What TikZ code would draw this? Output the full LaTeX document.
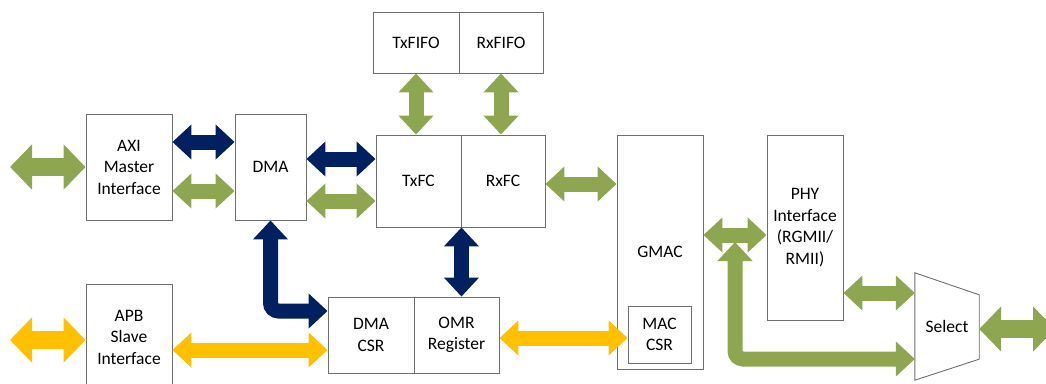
\documentclass[tikz,border=0pt]{standalone}
\usepackage{fontspec}
\setmainfont{Carlito}
\usetikzlibrary{arrows.meta}
\definecolor{busgreen}{RGB}{142,166,80}
\definecolor{busnavy}{RGB}{0,32,96}
\definecolor{busyellow}{RGB}{255,192,0}
\definecolor{boxline}{RGB}{110,110,110}
\begin{document}
\begin{tikzpicture}[x=1pt,y=-1pt,
  font=\fontsize{17.5}{21.5}\selectfont,
  blk/.style={draw=boxline,line width=0.9pt,align=center,inner sep=0pt},
  bus/.style={line width=15pt,{Triangle[width=34pt,length=19pt]}-{Triangle[width=34pt,length=19pt]}},
  widebus/.style={line width=18pt,{Triangle[width=44pt,length=22pt]}-{Triangle[width=44pt,length=22pt]}}]
\useasboundingbox (0,0) rectangle (1046,383);
% blocks
\node[blk,minimum width=86pt,minimum height=106pt] (axi) at (129,167) {AXI\\Master\\Interface};
\node[blk,minimum width=71pt,minimum height=106pt] (dma) at (270.5,167) {DMA};
\node[blk,minimum width=85pt,minimum height=92pt] (txfc) at (418.5,181) {TxFC};
\node[blk,minimum width=84pt,minimum height=92pt] (rxfc) at (503,181) {RxFC};
\node[blk,minimum width=86pt,minimum height=61pt] (txfifo) at (416,42.5) {TxFIFO};
\node[blk,minimum width=84pt,minimum height=61pt] (rxfifo) at (501,42.5) {RxFIFO};
\node[blk,minimum width=86pt,minimum height=76pt] (dmacsr) at (371,335) {DMA\\CSR};
\node[blk,minimum width=85pt,minimum height=76pt] (omr) at (456.5,335) {OMR\\Register};
\node[blk,minimum width=86pt,minimum height=234pt] (gmac) at (660,252) {GMAC};
\node[blk,minimum width=63pt,minimum height=57pt] (maccsr) at (659.5,334.5) {MAC\\CSR};
\node[blk,minimum width=76pt,minimum height=185pt] (phy) at (805,227.5) {PHY\\Interface\\(RGMII/\\RMII)};
\node[blk,minimum width=86pt,minimum height=106pt] (apb) at (129,337) {APB\\Slave\\Interface};
\node[minimum width=64pt,minimum height=107pt,inner sep=0pt] (sel) at (947,326.5) {Select};
\draw[boxline,line width=0.9pt] (sel.north west) -- ([yshift=-22pt]sel.north east)
  -- ([yshift=21pt]sel.south east) -- (sel.south west) -- cycle;
% outer ports
\coordinate (axiext) at (10,167);
\coordinate (apbext) at (10,340);
\coordinate (selext) at (1055,329);
\coordinate (ltip) at (735,242);
% buses
\draw[widebus,busgreen] (axiext) -- (axi.west);
\draw[bus,busnavy] (axi.east |- 0,142) -- (dma.west |- 0,142);
\draw[bus,busgreen] (axi.east |- 0,191) -- (dma.west |- 0,191);
\draw[bus,busnavy] (dma.east |- 0,159) -- (txfc.west |- 0,159);
\draw[bus,busgreen] (dma.east |- 0,201) -- (txfc.west |- 0,201);
\draw[bus,busgreen] (txfifo.south) -- (txfifo.south |- txfc.north);
\draw[bus,busgreen] (rxfifo.south) -- (rxfifo.south |- rxfc.north);
\draw[bus,busgreen] (rxfc.east |- 0,184) -- (gmac.west |- 0,184);
\draw[bus,busnavy] (txfc.south east) -- (txfc.south east |- omr.north);
\draw[bus,busnavy,rounded corners=8pt] (dma.south) -- (dma.south |- 0,311) -- (dmacsr.west |- 0,311);
\draw[widebus,busyellow] (apbext) -- (apb.west |- apbext);
\draw[bus,busyellow] (apb.east |- 0,350) -- (dmacsr.west |- 0,350);
\draw[bus,busyellow] (omr.east |- 0,338) -- (maccsr.west |- 0,338);
\draw[bus,busgreen] (gmac.east |- 0,235) -- (phy.west |- 0,235);
\draw[bus,busgreen,rounded corners=8pt] (ltip) -- (ltip |- 0,359) -- (sel.west |- 0,359);
\draw[bus,busgreen] (phy.east |- 0,293) -- (sel.west |- 0,293);
\draw[widebus,busgreen] (sel.east |- selext) -- (selext);
\end{tikzpicture}
\end{document}
